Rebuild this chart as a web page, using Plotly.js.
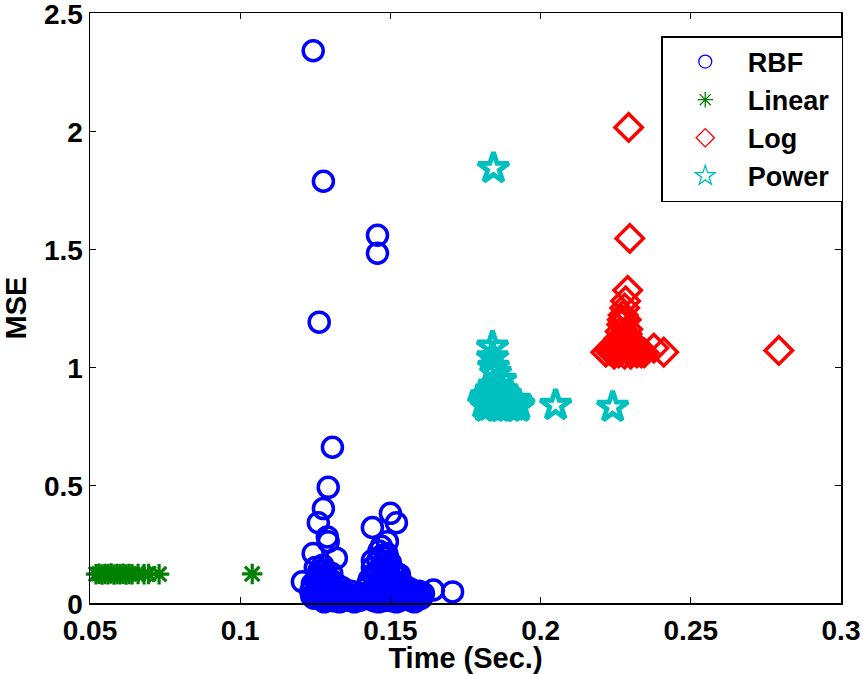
<!DOCTYPE html>
<html>
<head>
<meta charset="utf-8">
<script src="https://cdn.plot.ly/plotly-3.0.1.min.js"></script>
<style>html,body{margin:0;padding:0;background:#fff;}#chart{width:863px;height:674px;}</style>
</head>
<body>
<div id="chart"></div>
<script>
// ---- data ----
var seriesNames = ["RBF", "Linear", "Log", "Power"];

var rbfTime = [0.1243,0.1277,0.1457,0.1457,0.1263,0.1307,0.1293,0.1277,0.1260,0.1290,0.1293,0.1243,0.1320,0.1500,0.1520,0.1440,0.1490,0.1470,0.1440,0.1490,0.1207,0.1643,0.1707,
  0.1250,0.1265,0.1280,0.1300,0.1240,0.1255,0.1270,0.1285,0.1300,0.1315,0.1330,0.1345,0.1360,0.1250,0.1265,0.1280,0.1295,0.1310,0.1325,0.1340,0.1355,0.1370,0.1385,0.1400,0.1275,0.1320,0.1260,0.1235,0.1290,0.1380,
  0.1245,0.1258,0.1272,0.1287,0.1302,0.1318,0.1333,0.1348,0.1362,0.1377,0.1392,0.1407,0.1268,0.1283,0.1298,0.1312,0.1252,0.1238,0.1262,0.1275,0.1305,0.1340,0.1352,0.1368,
  0.1440,0.1455,0.1470,0.1485,0.1500,0.1515,0.1460,0.1475,0.1490,0.1505,0.1520,0.1535,0.1550,0.1565,0.1580,0.1595,0.1435,0.1450,0.1465,0.1480,0.1495,0.1510,0.1525,0.1540,0.1555,0.1570,0.1585,0.1600,0.1610,0.1420,0.1445,0.1460,0.1475,0.1490,0.1505,0.1530,0.1545,0.1560,0.1425,0.1410,0.1500,0.1530,0.1470,
  0.1430,0.1442,0.1452,0.1468,0.1482,0.1497,0.1512,0.1527,0.1542,0.1557,0.1572,0.1588,0.1603,0.1458,0.1478,0.1492,0.1508,0.1522,0.1438,0.1453,0.1497,0.1517,0.1532,0.1562,0.1578,0.1593,0.1415,0.1462,0.1488,
  0.1280,0.1330,0.1380,0.1460,0.1520,0.1580];
var rbfMSE = [2.34,1.787,1.558,1.482,1.19,0.66,0.49,0.40,0.34,0.28,0.26,0.21,0.19,0.38,0.34,0.32,0.26,0.24,0.18,0.195,0.09,0.055,0.047,
  0.15,0.12,0.14,0.10,0.08,0.06,0.05,0.07,0.04,0.06,0.03,0.05,0.02,0.03,0.02,0.01,0.02,0.01,0.015,0.01,0.012,0.015,0.01,0.012,0.09,0.08,0.11,0.05,0.035,0.03,
  0.02,0.04,0.03,0.05,0.06,0.03,0.04,0.02,0.035,0.02,0.025,0.02,0.075,0.11,0.085,0.045,0.095,0.03,0.135,0.16,0.125,0.065,0.04,0.05,
  0.15,0.12,0.16,0.14,0.11,0.13,0.09,0.07,0.08,0.06,0.09,0.07,0.05,0.06,0.04,0.05,0.05,0.03,0.04,0.02,0.03,0.02,0.03,0.015,0.02,0.01,0.02,0.03,0.04,0.02,0.01,0.015,0.01,0.012,0.01,0.01,0.04,0.035,0.08,0.04,0.17,0.12,0.20,
  0.10,0.12,0.06,0.11,0.05,0.09,0.07,0.05,0.08,0.04,0.05,0.03,0.02,0.18,0.13,0.16,0.14,0.11,0.035,0.045,0.045,0.04,0.025,0.02,0.035,0.015,0.06,0.22,0.21,
  0.005,0.005,0.005,0.005,0.005,0.005];

var linearTime = [0.0520,0.0530,0.0540,0.0550,0.0560,0.0570,0.0580,0.0590,0.0600,0.0610,0.0620,0.0630,0.0640,0.0660,0.0680,0.0695,0.0730,0.1040];
var linearMSE  = [0.122,0.124,0.121,0.123,0.122,0.125,0.121,0.123,0.122,0.124,0.121,0.123,0.122,0.123,0.122,0.123,0.122,0.123];

var logTime = [0.2293,0.2297,0.2290,0.2283,0.2280,0.2275,0.2285,0.2270,0.2290,0.2265,0.2280,0.2295,0.2260,0.2305,0.2250,0.2270,0.2285,0.2240,0.2300,0.2315,0.2230,0.2325,0.2217,0.2260,0.2280,0.2300,0.2335,0.2245,0.2345,
  0.2272,0.2288,0.2262,0.2292,0.2255,0.2310,0.2320,0.2238,0.2377,0.2410,0.2793];
var logMSE  = [2.015,1.545,1.325,1.28,1.25,1.22,1.20,1.18,1.16,1.15,1.13,1.12,1.12,1.10,1.10,1.09,1.08,1.08,1.075,1.07,1.07,1.065,1.063,1.06,1.055,1.055,1.06,1.055,1.06,
  1.20,1.14,1.09,1.095,1.075,1.085,1.06,1.065,1.08,1.063,1.07];

var powerTime = [0.1843,0.1840,0.1840,0.1843,0.1850,0.1867,0.1815,0.1825,0.1830,0.1840,0.1850,0.1855,0.1865,0.1875,0.1880,0.1890,0.1900,0.1910,0.1920,0.1928,0.1835,0.1845,0.1860,0.1870,0.1820,0.1860,0.1895,0.1810,
  0.1818,0.1838,0.1848,0.1862,0.1872,0.1885,0.1905,0.1915,0.1925,0.1832,0.2050,0.2240];
var powerMSE  = [1.842,1.085,1.04,1.0,0.974,0.944,0.86,0.84,0.88,0.85,0.87,0.835,0.86,0.845,0.87,0.84,0.855,0.835,0.85,0.84,0.90,0.92,0.91,0.89,0.83,0.83,0.83,0.845,
  0.875,0.865,0.845,0.875,0.83,0.855,0.845,0.86,0.83,0.835,0.838,0.83];

var xTickVals = [0.05,0.1,0.15,0.2,0.25,0.3];
var xTickText = ["0.05","0.1","0.15","0.2","0.25","0.3"];
var yTickVals = [0,0.5,1,1.5,2,2.5];
var yTickText = ["0","0.5","1","1.5","2","2.5"];

// ---- styles ----
var colors = ["#0000ff","#008000","#ff0000","#00bfbf"];
var symbols = ["circle-open","asterisk-open","diamond-open","star-open"];
var sizes = [20,17,21,23];
var widths = [3.5,3.2,3.5,4.8];
var legSizes = [13,13,14,15];
var legWidths = [1.3,1.3,1.3,1.3];

var xs = [rbfTime, linearTime, logTime, powerTime];
var ys = [rbfMSE, linearMSE, logMSE, powerMSE];

var traces = [];
for (var i = 0; i < 4; i++) {
  traces.push({
    type: "scatter", mode: "markers", x: xs[i], y: ys[i], name: seriesNames[i],
    showlegend: false, cliponaxis: false, hoverinfo: "none",
    marker: {symbol: symbols[i], size: sizes[i], color: colors[i], line: {color: colors[i], width: widths[i]}}
  });
}
for (var j = 0; j < 4; j++) {
  traces.push({
    type: "scatter", mode: "markers", x: [null], y: [null],
    name: seriesNames[j] + "\u00a0", showlegend: true,
    marker: {symbol: symbols[j], size: legSizes[j], color: colors[j], line: {color: colors[j], width: legWidths[j]}}
  });
}

var fam = "Liberation Sans, Arial, sans-serif";
var tickFont = {family: fam, size: 28, color: "#000", weight: "bold"};
var titleFont = {family: fam, size: 29, color: "#000", weight: "bold"};
var legFont = {family: fam, size: 27, color: "#000", weight: "bold"};

var layout = {
  width: 863, height: 674,
  margin: {l: 90, r: 22, t: 13, b: 71},
  paper_bgcolor: "#fff", plot_bgcolor: "#fff",
  font: tickFont,
  showlegend: true,
  xaxis: {
    range: [0.05, 0.3000001], tickvals: xTickVals, ticktext: xTickText,
    showgrid: false, zeroline: false, showline: true, linecolor: "#000", linewidth: 1.5,
    mirror: "ticks", ticks: "inside", ticklen: 6, tickcolor: "#000", tickwidth: 1,
    tickfont: tickFont, ticklabeloverflow: "allow", ticklabelstandoff: 2,
    title: {text: "Time (Sec.)", font: titleFont, standoff: 2}
  },
  yaxis: {
    range: [0, 2.500001], tickvals: yTickVals, ticktext: yTickText,
    showgrid: false, zeroline: false, showline: true, linecolor: "#000", linewidth: 1.5,
    mirror: "ticks", ticks: "inside", ticklen: 6, tickcolor: "#000", tickwidth: 1,
    tickfont: tickFont, ticklabeloverflow: "allow", ticklabelshift: 1,
    title: {text: "MSE", font: titleFont, standoff: 10}
  },
  legend: {
    x: 1.003, y: 0.961, xanchor: "right", yanchor: "top",
    bgcolor: "#fff", bordercolor: "#000", borderwidth: 1.5,
    font: legFont, traceorder: "normal", itemwidth: 75
  }
};

Plotly.newPlot("chart", traces, layout, {staticPlot: true, displayModeBar: false});
</script>
</body>
</html>
